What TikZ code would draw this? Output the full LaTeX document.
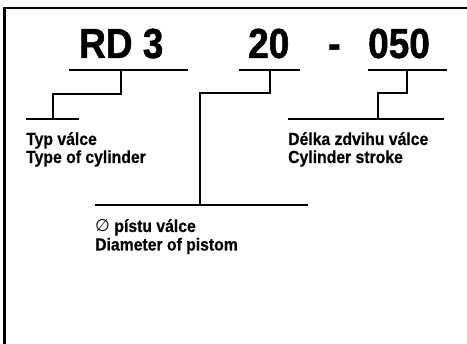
\documentclass[tikz,border=0pt]{standalone}
\usepackage{fontspec}
\setmainfont{Liberation Sans}[FakeStretch=0.9]
\newfontfamily\heavyfont{Liberation Sans Bold}[FakeStretch=0.88,FakeBold=1.2]
\newfontfamily\lblfont{Liberation Sans Bold}[FakeStretch=0.9,FakeBold=0.5]
\newfontfamily\symfont{DejaVu Sans}
\begin{document}
\begin{tikzpicture}[x=1pt,y=-1pt,
  big/.style={inner sep=0pt,anchor=base west,font=\heavyfont\fontsize{42}{42}\selectfont},
  lbl/.style={inner sep=0pt,anchor=base west,font=\lblfont\fontsize{17.5}{21}\selectfont},
  conn/.style={line width=1.4pt},
  frame/.style={line width=2.2pt}]
\useasboundingbox (0,0) rectangle (467,344);
\draw[frame] (4.5,346) -- (4.5,8) -- (469,8);
% codes
\node[big] (rd) at (79,58) {RD 3};
\node[big] (d) at (248,58) {20};
\node[big] (dash) at (328,58) {-};
\node[big] (st) at (368,58) {050};
% labels
\node[lbl] (typ1) at (26,145) {Typ válce};
\node[lbl] (typ2) at (26,163) {Type of cylinder};
\node[lbl] (dia1) at (95,232) {{\symfont\fontsize{17}{21}\selectfont ∅} pístu válce};
\node[lbl] (dia2) at (95,250.5) {Diameter of pistom};
\node[lbl] (del1) at (288,145) {Délka zdvihu válce};
\node[lbl] (del2) at (288,163) {Cylinder stroke};
% bracket 1
\coordinate (a1) at (69,70); \coordinate (a2) at (188,70);
\coordinate (a3) at (121,70); \coordinate (a4) at (121,94);
\coordinate (a5) at (53,94); \coordinate (a6) at (53,119);
\coordinate (a7) at (26,119); \coordinate (a8) at (79,119);
\draw[conn] (a1) -- (a2);
\draw[conn] (a3) -- (a4) -- (a5) -- (a6);
\draw[conn] (a7) -- (a8);
% bracket 2
\coordinate (b1) at (239,70); \coordinate (b2) at (300,70);
\coordinate (b3) at (270,70); \coordinate (b4) at (270,93);
\coordinate (b5) at (200,93); \coordinate (b6) at (200,205);
\coordinate (b7) at (95,205); \coordinate (b8) at (308,205);
\draw[conn] (b1) -- (b2);
\draw[conn] (b3) -- (b4) -- (b5) -- (b6);
\draw[conn] (b7) -- (b8);
% bracket 3
\coordinate (c1) at (368,70); \coordinate (c2) at (447,70);
\coordinate (c3) at (407,70); \coordinate (c4) at (407,93);
\coordinate (c5) at (378,93); \coordinate (c6) at (378,119);
\coordinate (c7) at (288,119); \coordinate (c8) at (444,119);
\draw[conn] (c1) -- (c2);
\draw[conn] (c3) -- (c4) -- (c5) -- (c6);
\draw[conn] (c7) -- (c8);
\end{tikzpicture}
\end{document}
